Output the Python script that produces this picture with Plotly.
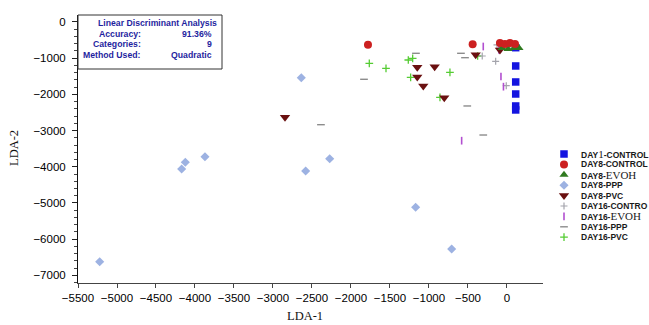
import plotly.graph_objects as go

# ---------------- data ----------------
categories = ["DAY1-CONTROL", "DAY8-CONTROL", "DAY8-EVOH", "DAY8-PPP", "DAY8-PVC",
              "DAY16-CONTRO", "DAY16-EVOH", "DAY16-PPP", "DAY16-PVC"]

day1_control_x = [112, 112, 112, 112, 112, 112]
day1_control_y = [-710, -1215, -1657, -1989, -2320, -2430]

day8_control_x = [-1782, -440, -90, -26, 38, 103]
day8_control_y = [-627, -616, -580, -608, -580, -608]

day8_evoh_x = [-64, 13, 90, 154]
day8_evoh_y = [-718, -746, -718, -718]

day8_ppp_x = [-5222, -4171, -4124, -3872, -2581, -2273, -2637, -1171, -709]
day8_ppp_y = [-6622, -4061, -3876, -3721, -4116, -3776, -1539, -5119, -6271]

day8_pvc_x = [-2846, -1150, -927, -1150, -1073, -804, -401, -90]
day8_pvc_y = [-2633, -1251, -1235, -1519, -1768, -2091, -903, -773]

day16_control_x = [-317, -145, -9, -128, 38]
day16_control_y = [-939, -1086, -1760, -635, -663]

day16_evoh_x = [-304, -77, -45, -581, -103]
day16_evoh_y = [-677, -1506, -1787, -3279, -773]

day16_ppp_x = [-1833, -2385, -1167, -590, -538, -509, -304, 38]
day16_ppp_y = [-1583, -2837, -865, -865, -986, -2320, -3122, -552]

day16_pvc_x = [-1765, -1551, -1265, -1209, -1235, -731, -859, -376]
day16_pvc_y = [-1141, -1279, -1050, -1003, -1528, -1390, -2080, -939]

x_ticks = [-5500, -5000, -4500, -4000, -3500, -3000, -2500, -2000, -1500, -1000, -500, 0]
y_ticks = [0, -1000, -2000, -3000, -4000, -5000, -6000, -7000]

info_labels = ["Accuracy:", "Categories:", "Method Used:"]
info_values = ["91.36%", "9", "Quadratic"]

# ---------------- styles ----------------
styles = [
    dict(symbol="square", size=7.5, color="#1414e0", line=dict(width=0)),
    dict(symbol="circle", size=8, color="#cc2020", line=dict(width=0)),
    dict(symbol="triangle-up", size=8, color="#2f7a1f", line=dict(width=0)),
    dict(symbol="diamond", size=7, color="#9db2e2", line=dict(width=0)),
    dict(symbol="triangle-down", size=9, color="#6a1010", line=dict(width=0)),
    dict(symbol="cross-thin", size=5, color="#a4a4ac", line=dict(width=1.2, color="#a4a4ac")),
    dict(symbol="line-ns", size=5.5, color="#b24fd0", line=dict(width=1.6, color="#b24fd0")),
    dict(symbol="line-ew", size=5.5, color="#8c8c8c", line=dict(width=1.4, color="#8c8c8c")),
    dict(symbol="cross-thin", size=5.5, color="#55cc33", line=dict(width=1.3, color="#55cc33")),
]

series = [
    (day1_control_x, day1_control_y), (day8_control_x, day8_control_y),
    (day8_evoh_x, day8_evoh_y), (day8_ppp_x, day8_ppp_y), (day8_pvc_x, day8_pvc_y),
    (day16_control_x, day16_control_y), (day16_evoh_x, day16_evoh_y),
    (day16_ppp_x, day16_ppp_y), (day16_pvc_x, day16_pvc_y),
]

W, H = 649, 325
ML, MR, MT, MB = 78, 0, 15, 42
plot_right_px = 543
PW = W - ML - MR
PH = H - MT - MB


def px2paper_x(px):
    return (px - ML) / PW


def px2paper_y(py):
    return (H - MB - py) / PH


fig = go.Figure()

order = [3, 7, 8, 5, 6, 4, 0, 2, 1]
for i in order:
    xs, ys = series[i]
    fig.add_trace(go.Scatter(x=xs, y=ys, mode="markers", name=categories[i],
                             marker=styles[i], showlegend=False, cliponaxis=False))

# custom legend in right margin (pixel-mapped helper axes)
leg_x_marker = 564
leg_x_text = 579
leg_y0 = 154
leg_step = 10.4
for i, cat in enumerate(categories):
    yy = leg_y0 + i * leg_step
    st = dict(styles[i])
    fig.add_trace(go.Scatter(x=[leg_x_marker], y=[yy], mode="markers", marker=st,
                             xaxis="x2", yaxis="y2", showlegend=False, hoverinfo="skip",
                             cliponaxis=False))

serif = "font-family:'Liberation Serif';font-size:11px;font-weight:normal"
legend_text = [
    "DAY<span style=\"%s\">1</span>-CONTROL" % serif,
    "DAY8-CONTROL",
    "DAY8-<span style=\"%s\">EVOH</span>" % serif,
    "DAY8-PPP",
    "DAY8-PVC",
    "DAY16-CONTRO",
    "DAY16-<span style=\"%s\">EVOH</span>" % serif,
    "DAY16-PPP",
    "DAY16-PVC",
]

annotations = []
for i, t in enumerate(legend_text):
    annotations.append(dict(x=leg_x_text, y=leg_y0 + i * leg_step, xref="x2", yref="y2",
                            text=t, showarrow=False, xanchor="left", yanchor="middle",
                            font=dict(family="Liberation Sans", size=8.5, color="#1a1a1a",
                                      weight="bold")))

# info box
box_right = 222
box_bottom = 69
blue = "#1f1fa0"
annotations.append(dict(x=px2paper_x(157), y=px2paper_y(22.5), xref="paper", yref="paper",
                        text="Linear Discriminant Analysis", showarrow=False,
                        xanchor="center", yanchor="middle",
                        font=dict(family="Liberation Sans", size=8.7, color=blue, weight="bold")))
for j, (lab, val) in enumerate(zip(info_labels, info_values)):
    yy = 33.5 + j * 10.6
    annotations.append(dict(x=px2paper_x(143), y=px2paper_y(yy), xref="paper", yref="paper",
                            text=lab, showarrow=False, xanchor="right", yanchor="middle",
                            font=dict(family="Liberation Sans", size=8.7, color=blue, weight="bold")))
    annotations.append(dict(x=px2paper_x(214), y=px2paper_y(yy), xref="paper", yref="paper",
                            text=val, showarrow=False, xanchor="right", yanchor="middle",
                            font=dict(family="Liberation Sans", size=8.7, color=blue, weight="bold")))

# axis titles
annotations.append(dict(x=px2paper_x(305), y=px2paper_y(316), xref="paper", yref="paper",
                        text="LDA-1", showarrow=False, xanchor="center", yanchor="middle",
                        font=dict(family="Liberation Serif", size=12.5, color="#111")))
annotations.append(dict(x=px2paper_x(14), y=px2paper_y(148), xref="paper", yref="paper",
                        text="LDA-2", showarrow=False, xanchor="center", yanchor="middle",
                        textangle=-90,
                        font=dict(family="Liberation Serif", size=12.5, color="#111")))

shapes = [dict(type="rect", xref="paper", yref="paper",
               x0=0, x1=px2paper_x(box_right), y0=px2paper_y(box_bottom), y1=1,
               line=dict(color="#333", width=1), fillcolor="rgba(0,0,0,0)", layer="above")]

main_dom = (plot_right_px - ML) / PW

fig.update_layout(
    width=W, height=H, autosize=False,
    margin=dict(l=ML, r=MR, t=MT, b=MB, pad=0),
    paper_bgcolor="white", plot_bgcolor="white",
    showlegend=False,
    font=dict(family="Liberation Sans", color="#000"),
    xaxis=dict(domain=[0, main_dom], range=[-5500, 462], tickvals=x_ticks,
               ticks="outside", ticklen=4, tickcolor="#444", showline=True,
               linecolor="#444", linewidth=1, zeroline=False, showgrid=False,
               tickfont=dict(size=11.5, color="#000"), anchor="y"),
    yaxis=dict(range=[-7210, 193], tickvals=y_ticks,
               ticks="outside", ticklen=5, tickcolor="#222", showline=True,
               linecolor="#111", linewidth=1, zeroline=False, showgrid=False,
               minor=dict(ticks="outside", ticklen=3, dtick=200, tick0=0, tickcolor="#444"),
               ticklabelstandoff=4,
               tickfont=dict(size=11.5, color="#000"), anchor="x"),
    xaxis2=dict(domain=[main_dom, 1], range=[plot_right_px, W], visible=False, anchor="y2",
                fixedrange=True),
    yaxis2=dict(domain=[0, 1], range=[H - MB, MT], visible=False, anchor="x2",
                fixedrange=True),
    annotations=annotations,
    shapes=shapes,
)

fig.write_html("out.html")
